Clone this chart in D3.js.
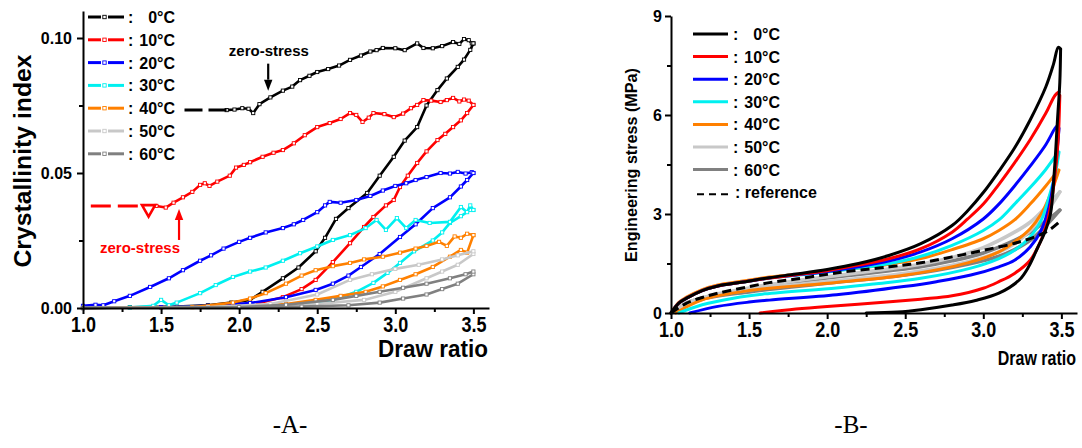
<!DOCTYPE html>
<html>
<head>
<meta charset="utf-8">
<script src="https://cdn.jsdelivr.net/npm/d3@7"></script>
<style>
  body { margin: 0; background: #fff; }
  svg { display: block; }
  text { font-family: "Liberation Sans", Arial, sans-serif; font-weight: bold; fill: #000; }
</style>
</head>
<body>
<svg id="fig" width="1082" height="448"></svg>
<script>
// ---- categories, ticks ----
const temps = ["0°C", "10°C", "20°C", "30°C", "40°C", "50°C", "60°C"];
const palette = ["#000000", "#ff0000", "#0000ff", "#00f0f0", "#ff8000", "#c8c8c8", "#808080"];
const drTicks = [1.0, 1.5, 2.0, 2.5, 3.0, 3.5];
const drMinor = [1.25, 1.75, 2.25, 2.75, 3.25];
const cryTicks = [0, 0.05, 0.10];
const cryMinor = [0.025, 0.075];
const stressTicks = [0, 3, 6, 9];
const stressMinor = [1.5, 4.5, 7.5];

// ---- A: crystallinity index vs draw ratio, [draw ratio, index] ----
const cryLoad0 = [[1.0,0],[1.3,0.0003],[1.6,0.0005],[1.8,0.001],[1.95,0.002],[2.07,0.003],[2.15,0.006],[2.28,0.011],[2.38,0.015],[2.49,0.021],[2.55,0.026],[2.62,0.033],[2.7,0.037],[2.82,0.0426],[2.9,0.049],[2.99,0.056],[3.06,0.062],[3.14,0.067],[3.2,0.075],[3.27,0.0807],[3.33,0.085],[3.4,0.0893],[3.44,0.092],[3.48,0.0956],[3.5,0.098]];
const cryUnload0 = [[1.92,0.0733],[1.97,0.0735],[2.02,0.074],[2.06,0.0738],[2.09,0.0722],[2.13,0.0755],[2.2,0.078],[2.28,0.0805],[2.34,0.082],[2.39,0.0844],[2.45,0.086],[2.5,0.0874],[2.57,0.0885],[2.64,0.0898],[2.71,0.0919],[2.78,0.0935],[2.84,0.095],[2.88,0.0955],[2.92,0.0963],[3.0,0.0962],[3.06,0.0955],[3.14,0.098],[3.18,0.0963],[3.24,0.0962],[3.3,0.097],[3.37,0.0985],[3.41,0.0978],[3.44,0.0996],[3.47,0.0992],[3.49,0.098],[3.5,0.098]];
const cryLoad10 = [[1.0,0],[1.5,0.0003],[1.9,0.0006],[2.1,0.0015],[2.28,0.004],[2.4,0.007],[2.49,0.0104],[2.6,0.017],[2.71,0.024],[2.8,0.03],[2.86,0.0337],[2.94,0.038],[2.99,0.04],[3.03,0.0448],[3.08,0.049],[3.14,0.0537],[3.2,0.058],[3.27,0.0622],[3.32,0.0645],[3.37,0.067],[3.42,0.0695],[3.46,0.0722],[3.5,0.0752]];
const cryUnload10 = [[1.47,0.0378],[1.53,0.0372],[1.58,0.039],[1.64,0.041],[1.7,0.043],[1.75,0.0456],[1.78,0.0462],[1.81,0.0452],[1.86,0.0468],[1.94,0.049],[1.98,0.052],[2.03,0.053],[2.07,0.054],[2.15,0.056],[2.22,0.0575],[2.28,0.0585],[2.35,0.061],[2.42,0.064],[2.5,0.067],[2.58,0.0685],[2.65,0.07],[2.71,0.0722],[2.75,0.0715],[2.79,0.0689],[2.83,0.0705],[2.86,0.0722],[2.93,0.0718],[2.99,0.0707],[3.05,0.072],[3.1,0.074],[3.14,0.0752],[3.18,0.077],[3.23,0.0768],[3.29,0.0763],[3.33,0.077],[3.37,0.0778],[3.41,0.0765],[3.44,0.0772],[3.47,0.0768],[3.5,0.0752]];
const cryLoad20 = [[1.0,0],[1.5,0.0003],[1.8,0.0008],[2.07,0.0018],[2.3,0.004],[2.49,0.0067],[2.6,0.009],[2.7,0.012],[2.78,0.0152],[2.9,0.02],[3.03,0.0263],[3.13,0.031],[3.24,0.037],[3.35,0.041],[3.42,0.045],[3.46,0.0474],[3.5,0.05]];
const cryUnload20 = [[1.0,0.0008],[1.08,0.0012],[1.13,0.001],[1.2,0.0025],[1.3,0.0045],[1.43,0.0078],[1.55,0.011],[1.64,0.014],[1.75,0.0175],[1.82,0.0195],[1.9,0.022],[2.0,0.0245],[2.07,0.026],[2.17,0.028],[2.28,0.0296],[2.35,0.031],[2.41,0.0326],[2.5,0.0355],[2.55,0.038],[2.58,0.0393],[2.65,0.039],[2.75,0.04],[2.84,0.0415],[2.92,0.0435],[3.0,0.0452],[3.07,0.0462],[3.13,0.0474],[3.2,0.0485],[3.29,0.05],[3.35,0.0498],[3.4,0.0504],[3.45,0.0498],[3.49,0.0503],[3.5,0.05]];
const cryLoad30 = [[1.0,0],[1.8,0.0004],[2.3,0.001],[2.6,0.003],[2.75,0.006],[2.86,0.0093],[2.95,0.013],[3.03,0.0167],[3.12,0.021],[3.24,0.025],[3.3,0.028],[3.35,0.0315],[3.42,0.034],[3.48,0.0363],[3.5,0.0363]];
const cryUnload30 = [[1.3,0.0002],[1.45,0.0008],[1.5,0.003],[1.55,0.001],[1.6,0.002],[1.75,0.0055],[1.85,0.0085],[1.96,0.0115],[2.07,0.0135],[2.17,0.015],[2.28,0.0175],[2.39,0.0203],[2.5,0.0228],[2.6,0.0252],[2.71,0.027],[2.81,0.0296],[2.88,0.0326],[2.94,0.0289],[3.01,0.0333],[3.07,0.0296],[3.13,0.0326],[3.22,0.0315],[3.35,0.0319],[3.42,0.0374],[3.46,0.0355],[3.48,0.038],[3.5,0.0363]];
const cryLoad40 = [[1.0,0],[2.0,0.0005],[2.3,0.0015],[2.49,0.003],[2.65,0.0045],[2.81,0.006],[2.92,0.008],[3.03,0.0104],[3.13,0.0125],[3.24,0.0152],[3.35,0.019],[3.42,0.0215],[3.46,0.0205],[3.5,0.027]];
const cryUnload40 = [[1.7,0.0003],[1.96,0.002],[2.07,0.0035],[2.17,0.0055],[2.3,0.009],[2.4,0.012],[2.49,0.014],[2.6,0.0155],[2.71,0.0167],[2.8,0.018],[2.92,0.019],[3.03,0.0205],[3.13,0.022],[3.2,0.023],[3.28,0.0245],[3.33,0.023],[3.38,0.0265],[3.42,0.026],[3.46,0.0275],[3.5,0.027]];
const cryLoad50 = [[1.0,0],[2.2,0.0005],[2.5,0.0015],[2.8,0.003],[3.0,0.006],[3.2,0.011],[3.3,0.0135],[3.4,0.016],[3.5,0.02]];
const cryUnload50 = [[1.8,0.0003],[2.2,0.0015],[2.5,0.005],[2.71,0.0104],[2.85,0.0125],[3.0,0.0145],[3.15,0.016],[3.3,0.018],[3.4,0.0195],[3.5,0.021]];
const cryLoad60 = [[1.0,0],[2.4,0.0005],[2.7,0.001],[2.9,0.002],[3.05,0.0035],[3.2,0.005],[3.3,0.007],[3.4,0.009],[3.5,0.0125]];
const cryUnload60 = [[2.0,0.0003],[2.3,0.0012],[2.6,0.003],[2.75,0.0045],[2.9,0.006],[3.05,0.0075],[3.2,0.009],[3.35,0.011],[3.45,0.0125],[3.5,0.0135]];
// zero-stress plateaus (index held once the stress has vanished)
const zeroStress0 = [[1.65,0.0733],[1.92,0.0733]];
const zeroStress10 = [[1.05,0.0378],[1.37,0.0378]];
const zeroStressMark10 = [1.42,0.0378];
const noteA0 = { text: "zero-stress", at: [2.19,0.0935], from: [2.186,0.0905], to: [2.186,0.0805] };
const noteA10 = { text: "zero-stress", at: [1.365,0.0205], from: [1.615,0.0252], to: [1.615,0.0367] };

// ---- B: engineering stress (MPa) vs draw ratio ----
const stressLoad0 = [[1.0,0],[1.05,0.3],[1.1,0.45],[1.2,0.68],[1.3,0.82],[1.45,0.93],[1.63,1.07],[1.8,1.18],[2.0,1.32],[2.2,1.5],[2.4,1.75],[2.6,2.1],[2.8,2.65],[2.9,3.1],[3.0,3.65],[3.1,4.3],[3.2,5.0],[3.3,5.85],[3.4,6.85],[3.45,7.55],[3.48,8.05],[3.495,8.0]];
const stressUnload0 = [[3.495,8.0],[3.49,7.0],[3.475,5.85],[3.455,4.3],[3.43,3.0],[3.39,2.4],[3.35,2.0],[3.29,1.4],[3.23,1.0],[3.1,0.6],[2.95,0.38],[2.8,0.24],[2.6,0.1],[2.45,0.03],[2.25,0]];
const stressLoad10 = [[1.0,0],[1.05,0.3],[1.1,0.45],[1.2,0.68],[1.3,0.82],[1.45,0.93],[1.63,1.06],[1.8,1.16],[2.0,1.28],[2.2,1.45],[2.4,1.65],[2.6,1.95],[2.8,2.45],[2.9,2.85],[3.0,3.3],[3.1,3.9],[3.2,4.55],[3.3,5.25],[3.4,6.05],[3.46,6.6],[3.485,6.7]];
const stressUnload10 = [[3.49,6.6],[3.48,5.3],[3.46,4.2],[3.43,3.2],[3.4,2.6],[3.35,2.0],[3.3,1.6],[3.2,1.2],[3.1,0.95],[3.0,0.75],[2.8,0.52],[2.6,0.42],[2.3,0.3],[2.0,0.2],[1.8,0.12],[1.57,0]];
const stressLoad20 = [[1.0,0],[1.05,0.3],[1.1,0.45],[1.2,0.68],[1.3,0.82],[1.45,0.93],[1.63,1.06],[1.8,1.15],[2.0,1.26],[2.2,1.4],[2.4,1.58],[2.6,1.85],[2.8,2.25],[3.0,2.85],[3.1,3.3],[3.2,3.85],[3.3,4.45],[3.4,5.1],[3.46,5.6],[3.48,5.7]];
const stressUnload20 = [[3.485,5.6],[3.47,4.8],[3.45,4.0],[3.42,3.2],[3.37,2.5],[3.3,2.0],[3.2,1.6],[3.1,1.4],[2.92,1.15],[2.7,0.95],[2.49,0.8],[2.06,0.55],[1.63,0.39],[1.5,0.33],[1.3,0.2],[1.12,0]];
const stressLoad30 = [[1.0,0],[1.05,0.3],[1.1,0.45],[1.2,0.68],[1.3,0.82],[1.45,0.93],[1.63,1.06],[1.8,1.14],[2.0,1.24],[2.2,1.36],[2.4,1.5],[2.6,1.72],[2.8,2.05],[3.0,2.5],[3.1,2.82],[3.2,3.3],[3.3,3.8],[3.4,4.35],[3.48,4.88]];
const stressUnload30 = [[3.485,4.88],[3.46,4.2],[3.42,3.5],[3.37,2.8],[3.3,2.3],[3.2,1.9],[3.1,1.65],[2.92,1.36],[2.6,1.05],[2.3,0.88],[2.06,0.76],[1.6,0.58],[1.4,0.45],[1.2,0.25],[1.05,0]];
const stressLoad40 = [[1.0,0],[1.05,0.32],[1.1,0.48],[1.2,0.71],[1.3,0.85],[1.45,0.96],[1.63,1.09],[1.8,1.17],[2.0,1.26],[2.2,1.36],[2.4,1.48],[2.6,1.65],[2.8,1.92],[3.0,2.25],[3.1,2.5],[3.2,2.82],[3.3,3.3],[3.4,3.85],[3.48,4.33]];
const stressUnload40 = [[3.485,4.33],[3.43,3.6],[3.37,3.0],[3.3,2.55],[3.2,2.15],[3.1,1.85],[2.9,1.52],[2.5,1.15],[2.0,0.9],[1.5,0.68],[1.2,0.4],[1.03,0]];
const stressLoad50 = [[1.0,0],[1.1,0.3],[1.2,0.45],[1.3,0.58],[1.5,0.76],[1.8,0.98],[2.0,1.1],[2.2,1.22],[2.4,1.34],[2.6,1.48],[2.8,1.68],[3.0,1.98],[3.2,2.45],[3.3,2.75],[3.4,3.2],[3.49,3.67]];
const stressUnload50 = [[3.49,3.67],[3.44,3.3],[3.38,2.95],[3.3,2.5],[3.2,2.1],[3.1,1.85],[2.9,1.55],[2.5,1.2],[2.0,0.95],[1.5,0.7],[1.2,0.45],[1.05,0.15],[1.0,0]];
const stressLoad60 = [[1.0,0],[1.1,0.3],[1.2,0.44],[1.3,0.56],[1.5,0.72],[1.8,0.94],[2.0,1.06],[2.2,1.17],[2.4,1.28],[2.6,1.4],[2.8,1.58],[3.0,1.82],[3.2,2.2],[3.3,2.45],[3.4,2.78],[3.49,3.12]];
const stressUnload60 = [[3.49,3.12],[3.44,2.85],[3.38,2.55],[3.3,2.2],[3.2,1.92],[3.1,1.72],[2.9,1.48],[2.5,1.15],[2.0,0.9],[1.5,0.64],[1.2,0.42],[1.05,0.15],[1.0,0]];
const stressReference = [[1.0,0],[1.1,0.3],[1.2,0.47],[1.3,0.6],[1.5,0.8],[1.63,0.92],[1.8,1.03],[2.0,1.17],[2.15,1.27],[2.4,1.4],[2.6,1.52],[2.8,1.7],[3.0,1.9],[3.23,2.15],[3.4,2.45],[3.48,2.73]];

const cryCurves = [[cryLoad0,cryUnload0],[cryLoad10,cryUnload10],[cryLoad20,cryUnload20],[cryLoad30,cryUnload30],[cryLoad40,cryUnload40],[cryLoad50,cryUnload50],[cryLoad60,cryUnload60]];
const stressCurves = [[stressLoad0,stressUnload0],[stressLoad10,stressUnload10],[stressLoad20,stressUnload20],[stressLoad30,stressUnload30],[stressLoad40,stressUnload40],[stressLoad50,stressUnload50],[stressLoad60,stressUnload60]];

const svg = d3.select("#fig");

// shared axis drawing: major + minor ticks, outward
function drawAxes(g, x, y, yMajor, yMinorV, yFmt, yLabelGap) {
  const yBase = y.range()[0];
  const xStart = x.range()[0];
  const xg = g.append("g").attr("transform", `translate(0,${yBase})`)
    .call(d3.axisBottom(x).tickValues(drTicks).tickFormat(d3.format(".1f")).tickSize(6).tickSizeOuter(0));
  g.append("g").attr("transform", `translate(0,${yBase})`)
    .call(d3.axisBottom(x).tickValues(drMinor).tickFormat("").tickSize(4).tickSizeOuter(0))
    .select(".domain").remove();
  xg.selectAll("text")
    .attr("y", 24).attr("dy", null)
    .style("font-size", "22px")
    .attr("textLength", 25).attr("lengthAdjust", "spacingAndGlyphs");

  const yg = g.append("g").attr("transform", `translate(${xStart},0)`)
    .call(d3.axisLeft(y).tickValues(yMajor).tickFormat(yFmt).tickSize(6).tickSizeOuter(0));
  g.append("g").attr("transform", `translate(${xStart},0)`)
    .call(d3.axisLeft(y).tickValues(yMinorV).tickFormat("").tickSize(4).tickSizeOuter(0))
    .select(".domain").remove();
  yg.selectAll("text").attr("x", -yLabelGap).style("font-size", "16px");

  g.selectAll(".domain").attr("stroke", "#000").attr("stroke-width", 2);
  g.selectAll(".tick line").attr("stroke", "#000").attr("stroke-width", 2);
  g.selectAll("g").attr("font-family", null).attr("font-size", null);
}

// ================= Panel A =================
const xA = d3.scaleLinear().domain([1.0, 3.6]).range([83, 489]);
const yA = d3.scaleLinear().domain([0, 0.11]).range([308, 11]);
const gA = svg.append("g");
const lineA = d3.line().x(d => xA(d[0])).y(d => yA(d[1]));

cryCurves.forEach((pair, i) => {
  const g = gA.append("g");
  pair.forEach(pts => {
    g.append("path").attr("d", lineA(pts))
      .attr("fill", "none").attr("stroke", palette[i])
      .attr("stroke-width", 2.6).attr("stroke-linejoin", "round");
    g.selectAll(null).data(pts).join("rect")
      .attr("x", d => xA(d[0]) - 1.6).attr("y", d => yA(d[1]) - 1.6)
      .attr("width", 3.2).attr("height", 3.2)
      .attr("fill", "#fff").attr("stroke", palette[i]).attr("stroke-width", 0.9);
  });
});

gA.append("path").attr("d", lineA(zeroStress0))
  .attr("fill", "none").attr("stroke", palette[0]).attr("stroke-width", 3)
  .attr("stroke-dasharray", "18,6");
gA.append("path").attr("d", lineA(zeroStress10))
  .attr("fill", "none").attr("stroke", palette[1]).attr("stroke-width", 3)
  .attr("stroke-dasharray", "20,7");
gA.append("path")
  .attr("d", d3.symbol().type(d3.symbolTriangle).size(75)())
  .attr("transform", `translate(${xA(zeroStressMark10[0])},${yA(zeroStressMark10[1]) + 3}) rotate(180)`)
  .attr("fill", "#fff").attr("stroke", palette[1]).attr("stroke-width", 2.6);

function arrow(g, note, color) {
  const x1 = xA(note.from[0]), y1 = yA(note.from[1]);
  const x2 = xA(note.to[0]), y2 = yA(note.to[1]);
  const dir = Math.sign(y2 - y1), head = 11;
  g.append("line").attr("x1", x1).attr("y1", y1).attr("x2", x2).attr("y2", y2 - dir * head)
    .attr("stroke", color).attr("stroke-width", 2.2);
  g.append("path")
    .attr("d", `M${x2},${y2} L${x2 - 4.2},${y2 - dir * head} L${x2 + 4.2},${y2 - dir * head} Z`)
    .attr("fill", color);
  g.append("text").attr("x", xA(note.at[0])).attr("y", yA(note.at[1]))
    .attr("text-anchor", "middle").style("font-size", "15px").style("fill", color)
    .text(note.text);
}
arrow(gA, noteA0, "#000");
arrow(gA, noteA10, "#ff0000");

drawAxes(gA, xA, yA, cryTicks, cryMinor, d3.format(".2f"), 11);

gA.append("text").attr("x", 378).attr("y", 357)
  .style("font-size", "23px").attr("textLength", 110).attr("lengthAdjust", "spacingAndGlyphs")
  .text("Draw ratio");
gA.append("text").attr("transform", "translate(31,161) rotate(-90)")
  .attr("text-anchor", "middle").style("font-size", "24px")
  .attr("textLength", 213).attr("lengthAdjust", "spacingAndGlyphs")
  .text("Crystallinity index");

// legend A
const legA = gA.append("g");
temps.forEach((t, i) => {
  const yy = 17 + i * 22.8;
  legA.append("line").attr("x1", 88).attr("x2", 101).attr("y1", yy).attr("y2", yy)
    .attr("stroke", palette[i]).attr("stroke-width", 3);
  legA.append("line").attr("x1", 108).attr("x2", 124).attr("y1", yy).attr("y2", yy)
    .attr("stroke", palette[i]).attr("stroke-width", 3);
  legA.append("rect").attr("x", 102.8).attr("y", yy - 1.7).attr("width", 3.4).attr("height", 3.4)
    .attr("fill", "#fff").attr("stroke", palette[i]).attr("stroke-width", 0.9);
  legA.append("text").attr("x", 128).attr("y", yy + 6).style("font-size", "16px").text(":");
  legA.append("text").attr("x", 175).attr("y", yy + 6).attr("text-anchor", "end")
    .style("font-size", "16px").text(t);
});

// ================= Panel B =================
const xB = d3.scaleLinear().domain([1.0, 3.6]).range([671, 1077]);
const yB = d3.scaleLinear().domain([0, 9]).range([313, 16]);
const gB = svg.append("g");
const lineBLoop = d3.line().x(d => xB(d[0])).y(d => yB(d[1])).curve(d3.curveCatmullRom.alpha(0.5));

for (let i = stressCurves.length - 1; i >= 0; i--) {
  stressCurves[i].forEach(pts => {
    gB.append("path").attr("d", lineBLoop(pts))
      .attr("fill", "none").attr("stroke", palette[i])
      .attr("stroke-width", i >= 5 ? 3.6 : 3).attr("stroke-linejoin", "round").attr("stroke-linecap", "round");
  });
}
gB.append("path").attr("d", lineBLoop(stressReference))
  .attr("fill", "none").attr("stroke", "#000").attr("stroke-width", 3)
  .attr("stroke-dasharray", "9,5");

drawAxes(gB, xB, yB, stressTicks, stressMinor, d3.format("d"), 9);

// right-hand axis title sits against the page edge: narrow font, stretched vertically
gB.append("text").attr("transform", "translate(1076,365) scale(1,1.25)")
  .attr("text-anchor", "end").style("font-size", "16px")
  .text("Draw ratio");
gB.append("text").attr("transform", "translate(637,165) rotate(-90)")
  .attr("text-anchor", "middle").style("font-size", "17px")
  .attr("textLength", 194).attr("lengthAdjust", "spacingAndGlyphs")
  .text("Engineering stress (MPa)");

// legend B
const legB = gB.append("g");
temps.forEach((t, i) => {
  const yy = 34 + i * 22.6;
  legB.append("line").attr("x1", 693).attr("x2", 728).attr("y1", yy).attr("y2", yy)
    .attr("stroke", palette[i]).attr("stroke-width", 3);
  legB.append("text").attr("x", 733).attr("y", yy + 6).style("font-size", "16px").text(":");
  legB.append("text").attr("x", 780).attr("y", yy + 6).attr("text-anchor", "end")
    .style("font-size", "16px").text(t);
});
{
  const yy = 34 + 7 * 22.6;
  legB.append("line").attr("x1", 697).attr("x2", 728).attr("y1", yy + 2).attr("y2", yy + 2)
    .attr("stroke", "#000").attr("stroke-width", 2).attr("stroke-dasharray", "7,5");
  legB.append("text").attr("x", 735).attr("y", yy + 6).style("font-size", "16px").text(": reference");
}

// panel captions
svg.append("text").attr("x", 290).attr("y", 433).attr("text-anchor", "middle")
  .style("font-family", "'Liberation Serif', 'Times New Roman', serif").style("font-weight", "normal")
  .style("font-size", "25px").text("-A-");
svg.append("text").attr("x", 851).attr("y", 433).attr("text-anchor", "middle")
  .style("font-family", "'Liberation Serif', 'Times New Roman', serif").style("font-weight", "normal")
  .style("font-size", "25px").text("-B-");
</script>
</body>
</html>
